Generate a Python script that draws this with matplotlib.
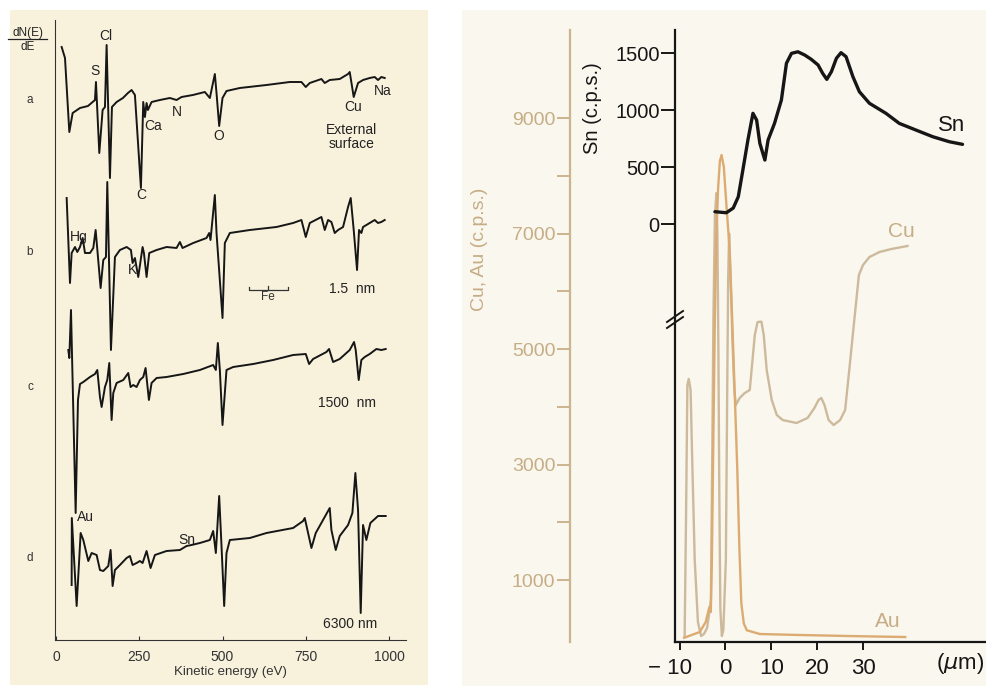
import matplotlib
matplotlib.use("Agg")
import matplotlib.pyplot as plt
from matplotlib.patches import Rectangle
from matplotlib.lines import Line2D
from matplotlib.transforms import ScaledTranslation

plt.rcParams['font.family'] = ['Liberation Sans', 'DejaVu Sans']

# ---- left panel: Auger spectra (dN(E)/dE, arbitrary units) ----
a_energy = [17, 27, 40, 50, 72, 96, 117, 120, 123, 130, 140, 147, 152, 162, 168, 182, 201, 216, 227, 237,
            255, 262, 267, 272, 276, 287, 312, 342, 362, 377, 411, 447, 462, 477, 482, 490, 500, 512, 552, 632,
            702, 737, 750, 762, 797, 807, 822, 852, 877, 882, 894, 907, 922, 942, 957, 967, 977, 987]
a_signal = [53, 42, -32, -13, -8, -6, 0, 18, -3, -53, -10, -7, 55, -78, -7, -2, 2, 7, 10, 5,
            -88, -2, -17, -3, -10, -2, 0, 2, 0, 3, 5, 8, 2, 26, 7, -26, 2, 9, 12, 15,
            18, 18, 13, 17, 21, 17, 20, 21, 26, 28, 3, 17, 20, 22, 23, 20, 23, 22]

b_energy = [32, 42, 47, 57, 64, 72, 80, 87, 102, 112, 119, 125, 134, 142, 150, 154, 165, 177, 192, 212,
            225, 230, 237, 247, 260, 264, 272, 280, 302, 332, 362, 372, 380, 412, 452, 460, 464, 477, 482, 500,
            507, 522, 582, 662, 712, 737, 750, 762, 797, 807, 817, 827, 837, 847, 862, 877, 885, 894, 904, 910,
            917, 922, 942, 957, 967, 977, 987]
b_signal = [54, -31, -1, 5, 0, 5, 14, -1, -1, 4, 22, -1, -36, -8, -5, 70, -98, -5, 2, 5,
            2, -11, -6, -25, 5, -1, -25, -1, 2, 5, 4, 10, 4, 9, 14, 19, 12, 57, 19, -66,
            9, 19, 22, 25, 29, 32, 15, 29, 35, 22, 32, 30, 19, 22, 25, 45, 54, 22, -18, 22,
            19, 25, 29, 32, 29, 30, 32]

c_energy = [37, 40, 45, 59, 66, 72, 82, 102, 117, 124, 132, 137, 147, 154, 160, 167, 172, 182, 202, 217,
            224, 232, 242, 252, 262, 269, 279, 287, 302, 332, 382, 432, 472, 480, 486, 492, 500, 512, 532, 592,
            652, 712, 750, 760, 772, 812, 820, 832, 852, 882, 895, 900, 909, 917, 927, 942, 962, 977, 990]
c_signal = [37, 29, 77, -126, -13, 3, 5, 10, 13, 17, -10, -20, 0, 7, 24, -33, -6, 4, 7, 14,
            0, 2, 0, 7, 10, 19, -13, 4, 9, 10, 13, 17, 22, 17, 44, 17, -38, 17, 20, 23,
            27, 32, 33, 23, 28, 35, 38, 25, 28, 37, 45, 37, 7, 27, 30, 33, 38, 37, 38]

d_energy = [47, 47.5, 62, 74, 82, 97, 107, 122, 132, 142, 157, 164, 170, 177, 192, 212, 222, 230, 242, 252,
            260, 272, 284, 297, 332, 372, 392, 407, 432, 462, 472, 480, 490, 497, 505, 512, 522, 582, 632, 712,
            742, 747, 767, 780, 822, 827, 840, 852, 877, 890, 899, 907, 915, 922, 932, 944, 967, 990]
d_signal = [-27, 40, -48, 25, 18, -3, 5, 3, -12, -13, -8, 8, -28, -12, -7, 0, 2, -7, -5, -3,
            -5, 7, -10, 3, 7, 8, 12, 13, 15, 18, 27, 5, 62, 12, -48, 5, 18, 20, 25, 30,
            37, 40, 10, 25, 50, 28, 8, 22, 33, 45, 85, 48, -55, 33, 18, 35, 42, 42]

trace_names = ['a', 'b', 'c', 'd']
trace_offsets = [540, 388, 253, 82]
energy_ticks = [0, 250, 500, 750, 1000]

# ---- right panel: depth profiles ----
sn_depth = [-2.3, 0.2, 1.7, 2.8, 3.8, 4.9, 6.0, 6.8, 7.5, 8.6, 9.3, 10.7, 12.2, 12.9, 13.3, 14.4, 15.8, 17.3,
            18.7, 20.2, 21.2, 22.1, 23.1, 24.2, 25.2, 26.3, 27.8, 29.2, 31.4, 35.0, 37.9, 41.5, 45.2, 48.8, 51.7]
sn_cps = [108, 99, 140, 239, 474, 737, 971, 912, 708, 561, 737, 883, 1088, 1292, 1410, 1497, 1511, 1482,
          1445, 1395, 1322, 1269, 1336, 1454, 1503, 1468, 1292, 1161, 1059, 971, 883, 825, 766, 722, 699]

cu_depth = [-8.9, -8.6, -8.3, -8.0, -7.6, -7.3, -6.7, -6.0, -5.3, -4.7, -4.0, -3.6, -3.17, -2.89, -2.63,
            -2.30, -1.98, -1.76, -1.54, -1.33, -1.11, -0.78, -0.46, 0.09, 0.37, 0.59, 0.80, 1.07, 1.50, 1.93,
            2.26, 3.1, 4.2, 5.3, 5.7, 6.4, 7.0, 7.85, 8.35, 9.0, 10.1, 11.2, 12.5, 15.5, 17.9, 19.4, 20.3,
            20.9, 21.6, 22.5, 23.6, 25.0, 26.1, 27.0, 28.1, 29.1, 30.0, 31.4, 33.6, 36.2, 39.7]
cu_cps = [30, 2039, 4377, 4481, 4290, 3251, 1346, 273, 30, 65, 169, 394, 654, 3000, 5500,
          7300, 7700, 7000, 5000, 2400, 500, 30, 134, 1346, 4117, 6200, 7000, 6400, 5200, 4300,
          4030, 4152, 4238, 4290, 4636, 5242, 5467, 5473, 5242, 4636, 4117, 3857, 3770, 3719, 3805, 3978, 4117,
          4152, 4030, 3770, 3684, 3770, 3944, 4636, 5502, 6281, 6455, 6593, 6680, 6732, 6784]

au_depth = [-9.0, -5.6, -4.3, -3.5, -3.2, -2.96, -2.63, -2.30, -1.98, -1.59, -1.22, -0.85, -0.35, 0.24,
            0.85, 1.39, 2.04, 2.59, 3.02, 3.46, 4.0, 4.65, 7.5, 16.2, 27.0, 39.2]
au_cps = [0, 100, 273, 532, 446, 1346, 3500, 5600, 7000, 7800, 8250, 8359, 8150, 7459,
          6800, 5700, 4200, 2900, 1600, 600, 250, 130, 65, 48, 30, 13]

depth_ticks = [-10, 0, 10, 20, 30]
depth_labels = ['\u2212 10', '0', '10', '20', '30']
sn_ticks = [0, 500, 1000, 1500]
cuau_ticks = [1000, 3000, 5000, 7000, 9000]
cuau_minor = [2000, 4000, 6000, 8000]

W, H = 986, 686
def fx(px):
    return px / W
def fy(py):
    return 1 - py / H

tan = '#ccb48f'
tan_text = '#c6ad86'
cu_col = '#cdba9c'
au_col = '#dcab72'
ink = '#161616'

fig = plt.figure(figsize=(W / 100, H / 100), dpi=100)
fig.patch.set_facecolor('white')
fig.add_artist(Rectangle((fx(10), fy(685)), 418 / W, 675 / H, transform=fig.transFigure,
                         facecolor='#f8f2dd', edgecolor='none', zorder=0))
fig.add_artist(Rectangle((fx(462), fy(686)), 524 / W, 676 / H, transform=fig.transFigure,
                         facecolor='#faf7ee', edgecolor='none', zorder=0))

# ================= left panel =================
ax = fig.add_axes([fx(55), fy(640), 351 / W, 620 / H])
ax.set_facecolor('none')
spectra = [(a_energy, a_signal), (b_energy, b_signal), (c_energy, c_signal), (d_energy, d_signal)]
for (e, s), off in zip(spectra, trace_offsets):
    ax.plot(e, [off + v for v in s], color=ink, lw=1.4, solid_joinstyle='round')

ax.set_xlim(-3, 1051)
ax.set_ylim(0, 620)
for side in ['top', 'right']:
    ax.spines[side].set_visible(False)
ax.spines['left'].set_color('#333333')
ax.spines['bottom'].set_color('#333333')
ax.set_yticks([])
ax.set_xticks(energy_ticks)
ax.tick_params(axis='x', direction='in', length=3, labelsize=10, pad=7, colors='#333333')
ax.set_xlabel('Kinetic energy (eV)', fontsize=9.5, labelpad=2, color='#333333')

for name, off in zip(trace_names, trace_offsets):
    ax.text(-78, off, name, fontsize=8.5, ha='center', va='center', clip_on=False, color='#333333')

labels_left = [('Cl', 150, 604), ('S', 117, 569), ('Ca', 291, 514), ('N', 363, 528), ('O', 489, 504),
               ('C', 255, 445), ('Cu', 891, 533), ('Na', 981, 549), ('Hg', 68, 403), ('K', 231, 370),
               ('Au', 87, 123), ('Sn', 393, 100)]
for txt, xe, yv in labels_left:
    ax.text(xe, yv, txt, fontsize=10, ha='center', va='center', color='#222222')
ax.text(888, 503, 'External\nsurface', fontsize=10, ha='center', va='center', linespacing=1.05, color='#222222')
ax.text(888, 351, '1.5  nm', fontsize=10, ha='center', va='center', color='#222222')
ax.text(873, 237, '1500  nm', fontsize=10, ha='center', va='center', color='#222222')
ax.text(882, 16, '6300 nm', fontsize=10, ha='center', va='center', color='#222222')

# Fe bracket
ax.plot([579, 579, 696, 696], [353, 350, 350, 353], color='#333333', lw=0.9)
ax.plot([636, 636], [350, 354], color='#333333', lw=0.9)
ax.text(636, 343, 'Fe', fontsize=8.5, ha='center', va='center', color='#333333')

# dN(E)/dE
ax.text(-84, 607, 'dN(E)', fontsize=8.5, ha='center', va='center', clip_on=False, color='#222222')
ax.plot([-144, -27], [601, 601], color='#222222', lw=0.9, clip_on=False)
ax.text(-84, 593, 'dE', fontsize=8.5, ha='center', va='center', clip_on=False, color='#222222')

# ================= right panel =================
pos = [fx(675), fy(641.7), 310 / W, 611.7 / H]
ax_cu = fig.add_axes(pos)
ax_sn = fig.add_axes(pos, sharex=ax_cu)
for a_ in (ax_cu, ax_sn):
    a_.set_facecolor('none')

ax_cu.plot(cu_depth, cu_cps, color=cu_col, lw=1.7, solid_joinstyle='round')
ax_cu.plot(au_depth, au_cps, color=au_col, lw=1.7, solid_joinstyle='round')
ax_cu.set_xlim(-11.0, 56.6)
ax_cu.set_ylim(-68, 10524)
ax_cu.spines['top'].set_visible(False)
ax_cu.spines['right'].set_visible(False)
ax_cu.spines['left'].set_position(('outward', 105 * 0.72))
ax_cu.spines['left'].set_color(tan)
ax_cu.spines['left'].set_linewidth(1.6)
ax_cu.spines['bottom'].set_color(ink)
ax_cu.spines['bottom'].set_linewidth(1.6)
ax_cu.set_yticks(cuau_ticks)
ax_cu.set_yticks(cuau_minor, minor=True)
ax_cu.tick_params(axis='y', which='both', length=9.5, width=1.4, color=tan,
                  labelcolor=tan_text, labelsize=14, pad=1)
ax_cu.set_xticks(depth_ticks)
ax_cu.set_xticklabels(depth_labels)
ax_cu.tick_params(axis='x', direction='out', length=6, width=1.4, labelsize=16, pad=6, colors=ink)
# the "-10" label sits a little left of its tick in the original
first = ax_cu.get_xticklabels()[0]
first.set_transform(first.get_transform() + ScaledTranslation(-0.10, 0, fig.dpi_scale_trans))

ax_sn.plot(sn_depth, sn_cps, color=ink, lw=2.4, solid_capstyle='round', solid_joinstyle='round')
ax_sn.set_ylim(-3664, 1702)
for side in ['top', 'right', 'bottom']:
    ax_sn.spines[side].set_visible(False)
ax_sn.spines['left'].set_color(ink)
ax_sn.spines['left'].set_linewidth(1.6)
ax_sn.set_yticks(sn_ticks)
ax_sn.tick_params(axis='y', length=10, width=1.4, labelsize=14.5, pad=1, colors=ink)
ax_sn.tick_params(axis='x', bottom=False, labelbottom=False)

ax_sn.text(49.4, 868, 'Sn', fontsize=16, ha='center', va='center', color=ink)
ax_cu.text(38.3, 7031, 'Cu', fontsize=15, ha='center', va='center', color=tan_text)
ax_cu.text(35.3, 290, 'Au', fontsize=15, ha='center', va='center', color=tan_text)

fig.text(fx(480), fy(249), 'Cu, Au (c.p.s.)', rotation=90, ha='center', va='center',
         fontsize=14, color=tan_text)
fig.text(fx(593), fy(108), 'Sn (c.p.s.)', rotation=90, ha='center', va='center',
         fontsize=14.5, color=ink)
fig.text(fx(960), fy(663), r'($\mu$m)', ha='center', va='center', fontsize=16, color=ink)

# axis break marks
for dy in (0, 6):
    fig.add_artist(Line2D([fx(667), fx(683)], [fy(322 + dy), fy(311 + dy)],
                          transform=fig.transFigure, color=ink, lw=1.4))

fig.savefig('out.png', dpi=100)
